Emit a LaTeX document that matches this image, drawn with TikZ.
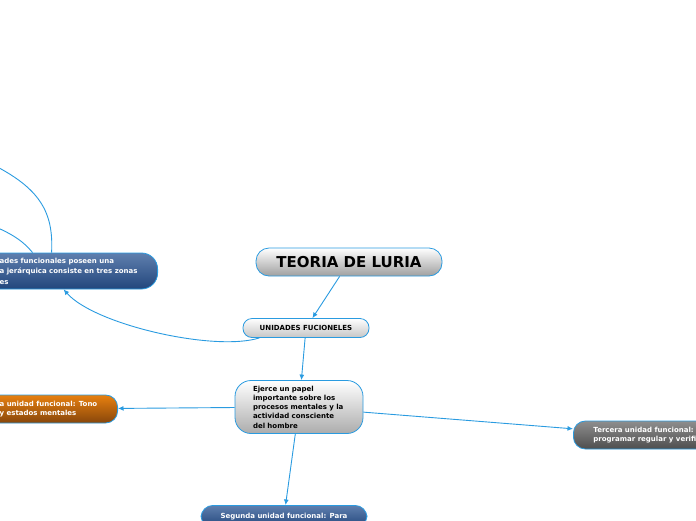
\documentclass[tikz,border=0pt]{standalone}
\usepackage{fontspec}
\setmainfont{DejaVu Sans}
\usetikzlibrary{arrows.meta}
\definecolor{linkblue}{HTML}{2A9BE0}
\definecolor{navytop}{HTML}{5F7FAE}
\definecolor{navybot}{HTML}{22467C}
\definecolor{ambertop}{HTML}{E8800F}
\definecolor{amberbot}{HTML}{87460B}
\definecolor{slatetop}{HTML}{8E8E8E}
\definecolor{slatebot}{HTML}{4E4E4E}

\begin{document}
\begin{tikzpicture}[
    x=1pt, y=-1pt,
    every node/.style={font=\bfseries\fontsize{7}{9.2}\selectfont},
    topic/.style={draw=linkblue, line width=0.8pt, rounded corners=9pt, align=center, inner sep=0pt},
    light/.style={topic, top color=white, bottom color=gray!55},
    unit/.style={topic, text=white, inner xsep=0pt, minimum height=28pt, rounded corners=12pt},
    link/.style={draw=linkblue, line width=0.9pt, -{Latex[length=5.5pt, width=5pt]}}
]
\useasboundingbox (0,0) rectangle (696,520);
\clip (0,0) rectangle (696,520);

\node[light, bottom color=gray!75, minimum width=186pt, minimum height=28pt, rounded corners=13pt,
      font=\bfseries\fontsize{15}{17}\selectfont] (luria) at (349,262) {TEORIA DE LURIA};
\node[light, bottom color=gray!45, minimum width=126pt, minimum height=19pt] (unidades) at (306,328) {UNIDADES FUCIONELES};
\node[light, bottom color=gray!65, minimum width=128pt, minimum height=53pt, rounded corners=16pt,
      text width=92pt, align=left] (ejerce) at (299,407)
      {Ejerce un papel\\importante sobre los\\procesos mentales y la\\actividad consciente\\del hombre};

\node[unit, top color=navytop, bottom color=navybot, minimum height=36pt, rounded corners=16pt, anchor=east] (zonas) at (158,271)
      {\hspace*{30pt}\parbox{140pt}{\raggedright\fontsize{7}{10.5}\selectfont ades funcionales poseen una\\a jerárquica consiste en tres zonas\\es}\hspace*{18pt}};
\node[unit, top color=ambertop, bottom color=amberbot, anchor=east] (primera) at (118,409)
      {\hspace*{30pt}\parbox{100pt}{\raggedright a unidad funcional: Tono\\y estados mentales}\hspace*{18pt}};
\node[unit, top color=slatetop, bottom color=slatebot, anchor=west] (tercera) at (573,435)
      {\hspace*{20pt}\parbox{115pt}{\raggedright Tercera unidad funcional:\\programar regular y verifi}\hspace*{20pt}};
\node[unit, top color=navytop, bottom color=navybot, minimum width=166pt, minimum height=22pt, anchor=north] (segunda) at (284,505)
      {Segunda unidad funcional: Para};

% branches running off the page
\coordinate (hidden1) at (-40,150);
\coordinate (hidden2) at (-40,214);

\draw[link] (luria) -- (unidades);
\draw[link] (unidades) -- (ejerce);
\draw[link] (unidades.192) .. controls (215,352) and (95,325) .. (zonas.south);
\draw[link] (ejerce) -- (primera);
\draw[link] (ejerce) -- (tercera);
\draw[link] (ejerce) -- (segunda);
\draw[link, -] ([xshift=-12pt]zonas.north) .. controls (54,205) and (35,180) .. (hidden1);
\draw[link, -] ([xshift=-31pt]zonas.north) .. controls (22,240) and (10,230) .. (hidden2);
\end{tikzpicture}
\end{document}
